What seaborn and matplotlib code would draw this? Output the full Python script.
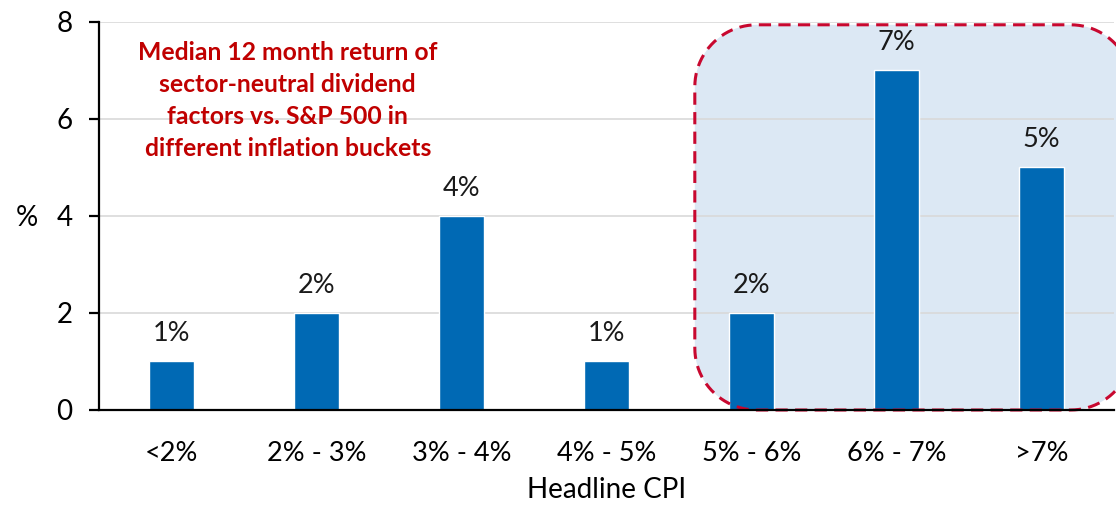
import matplotlib
matplotlib.use("Agg")
import numpy as np
import matplotlib.pyplot as plt
from matplotlib.patches import Polygon
from matplotlib.transforms import IdentityTransform
import seaborn as sns

categories = ["<2%", "2% - 3%", "3% - 4%", "4% - 5%", "5% - 6%", "6% - 7%", ">7%"]
returns = [1, 2, 4, 1, 2, 7, 5]
bar_labels = ["1%", "2%", "4%", "1%", "2%", "7%", "5%"]
note = ("Median 12 month return of\nsector-neutral dividend\n"
        "factors vs. S&P 500 in\ndifferent inflation buckets")


def rounded_box(ax, x0, y0, x1, y1, r, **kw):
    # rounded rectangle with circular corners of r pixels, given in data coords
    (px0, py0), (px1, py1) = ax.transData.transform([(x0, y0), (x1, y1)])
    pts = []
    for cx, cy, a0 in [(px1 - r, py1 - r, 0), (px0 + r, py1 - r, 90),
                       (px0 + r, py0 + r, 180), (px1 - r, py0 + r, 270)]:
        ang = np.radians(np.linspace(a0, a0 + 90, 24))
        pts += list(zip(cx + r * np.cos(ang), cy + r * np.sin(ang)))
    p = Polygon(pts, closed=True, transform=IdentityTransform(), clip_on=False, **kw)
    ax.add_patch(p)
    return p


sns.set_theme(style="white")
plt.rcParams["font.family"] = ["Lato", "DejaVu Sans"]

fig = plt.figure(figsize=(11.16, 5.09), dpi=100)
ax = fig.add_axes([0.0887, 0.1945, 0.9093, 0.7625])

sns.barplot(x=categories, y=returns, color="#0069b4", width=0.31,
            saturation=1, ax=ax, zorder=2)
ax.bar_label(ax.containers[0], labels=bar_labels, padding=11,
             fontsize=19.5, color="#1a1a1a")

ax.set_ylim(0, 8)
ax.set_xlim(-0.5, 6.5)

# highlighted high-inflation region
rounded_box(ax, 3.61, 0.0, 6.63, 7.94, 62, facecolor="#dce8f4",
            edgecolor="none", zorder=0.4)
rounded_box(ax, 3.61, 0.0, 6.63, 7.94, 62, facecolor="none",
            edgecolor="#c8082f", linewidth=2.2, linestyle=(0, (4, 2.4)), zorder=3)

ax.set_yticks([0, 2, 4, 6, 8])
ax.yaxis.grid(True, color="#d9d9d9", linewidth=1.2)
ax.set_axisbelow(True)
for s in ["top", "right"]:
    ax.spines[s].set_visible(False)
for s in ["left", "bottom"]:
    ax.spines[s].set_color("black")
    ax.spines[s].set_linewidth(1.6)
    ax.spines[s].set_zorder(4)

ax.tick_params(axis="y", left=True, length=7, width=1.6, color="black",
               labelsize=20, pad=12, labelcolor="black")
ax.tick_params(axis="x", bottom=False, labelsize=19.5, pad=16, labelcolor="black")

ax.set_ylabel("%", fontsize=20, rotation=0, color="black", va="center", ha="center")
ax.yaxis.set_label_coords(-0.071, 0.495)
ax.set_xlabel("Headline CPI", fontsize=20, color="black", labelpad=8.5)

ax.text(0.186, 0.952, note, transform=ax.transAxes, ha="center", va="top",
        fontsize=17.8, fontweight="bold", color="#c00000", linespacing=1.49)

fig.savefig("out.png", dpi=100)
